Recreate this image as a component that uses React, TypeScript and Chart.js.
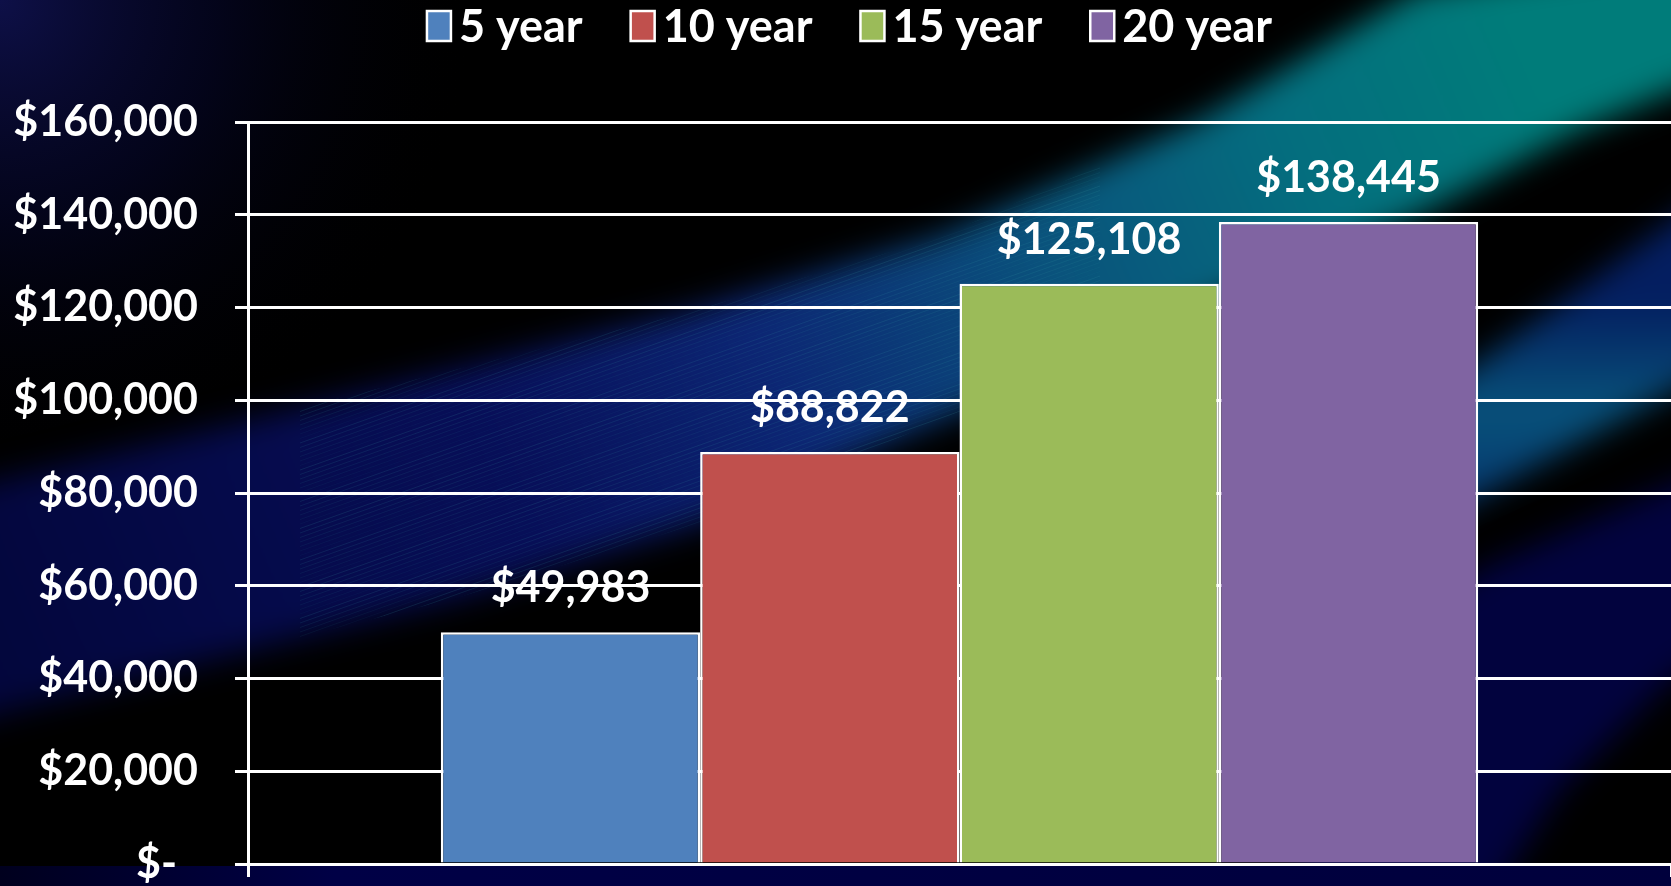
import React, { useEffect, useRef } from 'react';
import { Chart, registerables } from 'chart.js';

Chart.register(...registerables);

// ---- Data ----
const CATEGORIES = [''];
const SERIES_LABELS = ['5 year', '10 year', '15 year', '20 year'];
const SERIES_VALUES = [49983, 88822, 125108, 138445];
const SERIES_COLORS = ['#4F81BD', '#C0504D', '#9BBB59', '#8064A2'];
const Y_MIN = 0;
const Y_MAX = 160000;
const Y_STEP = 20000;

const FONT_FAMILY = 'Lato, "Open Sans", "DejaVu Sans", sans-serif';
const FONT_SIZE = 43;
const LEGEND_FONT_SIZE = 45;

const fmtMoney = (v: number) => (v === 0 ? '$-  ' : '$' + Math.round(v).toLocaleString('en-US'));

type Pt = [number, number];
function poly(ctx: CanvasRenderingContext2D, pts: Pt[]) {
  ctx.beginPath();
  pts.forEach(([x, y], i) => (i ? ctx.lineTo(x, y) : ctx.moveTo(x, y)));
  ctx.closePath();
}

const backgroundPlugin = {
  id: 'swooshBackground',
  beforeDraw(chart: any) {
    const ctx: CanvasRenderingContext2D = chart.ctx;
    const w = chart.width;
    const h = chart.height;
    ctx.save();
    ctx.fillStyle = '#000';
    ctx.fillRect(0, 0, w, h);

    // top-left navy glow
    const rg = ctx.createRadialGradient(0, 0, 0, 0, 0, 480);
    rg.addColorStop(0, 'rgba(14,16,72,1)');
    rg.addColorStop(0.45, 'rgba(5,6,38,0.7)');
    rg.addColorStop(1, 'rgba(0,0,0,0)');
    ctx.fillStyle = rg;
    ctx.fillRect(0, 0, w, h);

    ctx.filter = 'blur(16px)';

    // main teal band
    const bandA: Pt[] = [
      [-60, 495], [0, 480], [250, 420], [686, 313], [940, 237], [1200, 120], [1418, -10],
      [1760, -60], [1760, 60], [1671, 92], [1574, 132], [1420, 214], [700, 523],
      [460, 597], [0, 713], [-60, 730],
    ];
    const ga = ctx.createLinearGradient(0, 650, 1500, 0);
    ga.addColorStop(0, 'rgba(4,8,76,0.8)');
    ga.addColorStop(0.33, 'rgba(8,16,96,0.92)');
    ga.addColorStop(0.5, 'rgba(12,38,116,1)');
    ga.addColorStop(0.68, 'rgba(10,82,124,1)');
    ga.addColorStop(0.85, 'rgba(4,110,126,1)');
    ga.addColorStop(1, 'rgba(0,124,122,1)');
    poly(ctx, bandA);
    ctx.fillStyle = ga;
    ctx.fill();

    // second (right) band
    const bandB: Pt[] = [
      [1300, 490], [1487, 356], [1671, 222], [1760, 160], [1760, 340], [1671, 392],
      [1487, 492], [1300, 600],
    ];
    const gbB = ctx.createLinearGradient(0, 300, 0, 520);
    gbB.addColorStop(0, 'rgba(4,30,96,1)');
    gbB.addColorStop(0.5, 'rgba(8,82,122,1)');
    gbB.addColorStop(1, 'rgba(6,50,110,1)');
    ctx.fillStyle = gbB;
    poly(ctx, bandB);
    ctx.fill();

    // navy region lower right
    const bandC: Pt[] = [
      [1300, 690], [1487, 566], [1671, 485], [1760, 450], [1760, 620], [1671, 680],
      [1560, 790], [1490, 900], [1300, 900],
    ];
    ctx.fillStyle = 'rgba(2,4,78,0.8)';
    poly(ctx, bandC);
    ctx.fill();

    ctx.filter = 'none';

    // faint streak texture inside the main band
    ctx.save();
    poly(ctx, bandA);
    ctx.clip();
    for (let i = 0; i < 70; i++) {
      const y0 = 470 + i * 4.5;
      const a = 0.05 + (((i * 37) % 13) / 13) * 0.12;
      ctx.strokeStyle = `rgba(60,160,170,${a.toFixed(3)})`;
      ctx.lineWidth = 1;
      ctx.beginPath();
      ctx.moveTo(300, y0 - 300 * 0.3);
      ctx.lineTo(1100, y0 - 1100 * 0.34);
      ctx.stroke();
    }
    ctx.restore();

    // bottom strip below the axis
    const gb = ctx.createLinearGradient(0, 0, w, 0);
    gb.addColorStop(0, 'rgba(0,0,30,1)');
    gb.addColorStop(0.2, 'rgba(0,0,70,1)');
    gb.addColorStop(1, 'rgba(0,0,60,1)');
    ctx.fillStyle = gb;
    ctx.fillRect(0, 866, w, 30);

    ctx.restore();
  },
};

const valueLabelPlugin = {
  id: 'valueLabels',
  afterDatasetsDraw(chart: any) {
    const ctx: CanvasRenderingContext2D = chart.ctx;
    ctx.save();
    ctx.font = `bold ${FONT_SIZE}px ${FONT_FAMILY}`;
    ctx.fillStyle = '#ffffff';
    ctx.textAlign = 'center';
    ctx.textBaseline = 'middle';
    chart.data.datasets.forEach((ds: any, i: number) => {
      const meta = chart.getDatasetMeta(i);
      meta.data.forEach((el: any, j: number) => {
        ctx.fillText(fmtMoney(ds.data[j]), el.x, el.y - 44);
      });
    });
    ctx.restore();
  },
};

const legendPlugin = {
  id: 'topLegend',
  afterDraw(chart: any) {
    const ctx: CanvasRenderingContext2D = chart.ctx;
    ctx.save();
    ctx.font = `bold ${LEGEND_FONT_SIZE}px ${FONT_FAMILY}`;
    const boxW = 24;
    const boxH = 30;
    const gapText = 8;
    const gapItem = 48;
    const items = chart.data.datasets.map((ds: any) => ({
      text: ds.label as string,
      color: ds.backgroundColor as string,
      w: ctx.measureText(ds.label).width,
    }));
    const total =
      items.reduce((s: number, it: any) => s + boxW + gapText + it.w, 0) + gapItem * (items.length - 1);
    let x = chart.width / 2 - total / 2 + 14;
    const boxTop = 11;
    const cy = 27;
    items.forEach((it: any) => {
      ctx.fillStyle = it.color;
      ctx.fillRect(x, boxTop, boxW, boxH);
      ctx.strokeStyle = '#ffffff';
      ctx.lineWidth = 2.5;
      ctx.strokeRect(x, boxTop, boxW, boxH);
      ctx.fillStyle = '#ffffff';
      ctx.textAlign = 'left';
      ctx.textBaseline = 'middle';
      ctx.fillText(it.text, x + boxW + gapText, cy);
      x += boxW + gapText + it.w + gapItem;
    });
    ctx.restore();
  },
};

export default function App() {
  const canvasRef = useRef<HTMLCanvasElement | null>(null);

  useEffect(() => {
    let chart: Chart | null = null;
    let cancelled = false;
    const make = () => {
      if (cancelled || !canvasRef.current) return;
      chart = new Chart(canvasRef.current, {
        type: 'bar',
        data: {
          labels: CATEGORIES,
          datasets: SERIES_LABELS.map((label, i) => ({
            label,
            data: [SERIES_VALUES[i]],
            backgroundColor: SERIES_COLORS[i],
            borderColor: '#ffffff',
            borderWidth: 2.5,
            borderSkipped: 'start',
          })),
        },
        options: {
          responsive: false,
          animation: false,
          devicePixelRatio: 1,
          layout: { padding: { top: 122, right: 0, bottom: 9, left: 0 } },
          datasets: { bar: { categoryPercentage: 0.729, barPercentage: 1 } },
          plugins: {
            legend: { display: false },
            tooltip: { enabled: false },
          },
          scales: {
            x: {
              offset: true,
              z: 1,
              ticks: { display: false },
              grid: {
                display: true,
                offset: true,
                drawOnChartArea: false,
                drawTicks: true,
                tickLength: 13,
                color: '#ffffff',
                lineWidth: 3,
              },
              border: { display: true, color: '#ffffff', width: 3 },
              afterFit: (scale: any) => {
                scale.height = 13;
                scale.paddingLeft = 0;
                scale.paddingRight = 0;
              },
            },
            y: {
              min: Y_MIN,
              max: Y_MAX,
              ticks: {
                stepSize: Y_STEP,
                color: '#ffffff',
                padding: 37,
                font: { family: FONT_FAMILY, size: FONT_SIZE, weight: 'bold', lineHeight: 1 },
                callback: (v: any) => fmtMoney(Number(v)),
              },
              grid: {
                color: '#ffffff',
                lineWidth: 3,
                drawTicks: true,
                tickLength: 13,
              },
              border: { display: true, color: '#ffffff', width: 3 },
              afterFit: (scale: any) => {
                scale.width = 248;
                scale.paddingTop = 20;
                scale.paddingBottom = 20;
              },
            },
          },
        },
        plugins: [backgroundPlugin, valueLabelPlugin, legendPlugin],
      } as any);
    };
    const fonts: any = (document as any).fonts;
    if (fonts && fonts.load) {
      fonts.load(`bold ${FONT_SIZE}px Lato`).then(make, make);
    } else {
      make();
    }
    return () => {
      cancelled = true;
      if (chart) chart.destroy();
    };
  }, []);

  return (
    <div style={{ position: 'absolute', left: 0, top: 0, width: 1671, height: 886, background: '#000' }}>
      <canvas ref={canvasRef} width={1671} height={886} style={{ display: 'block', width: 1671, height: 886 }} />
    </div>
  );
}
